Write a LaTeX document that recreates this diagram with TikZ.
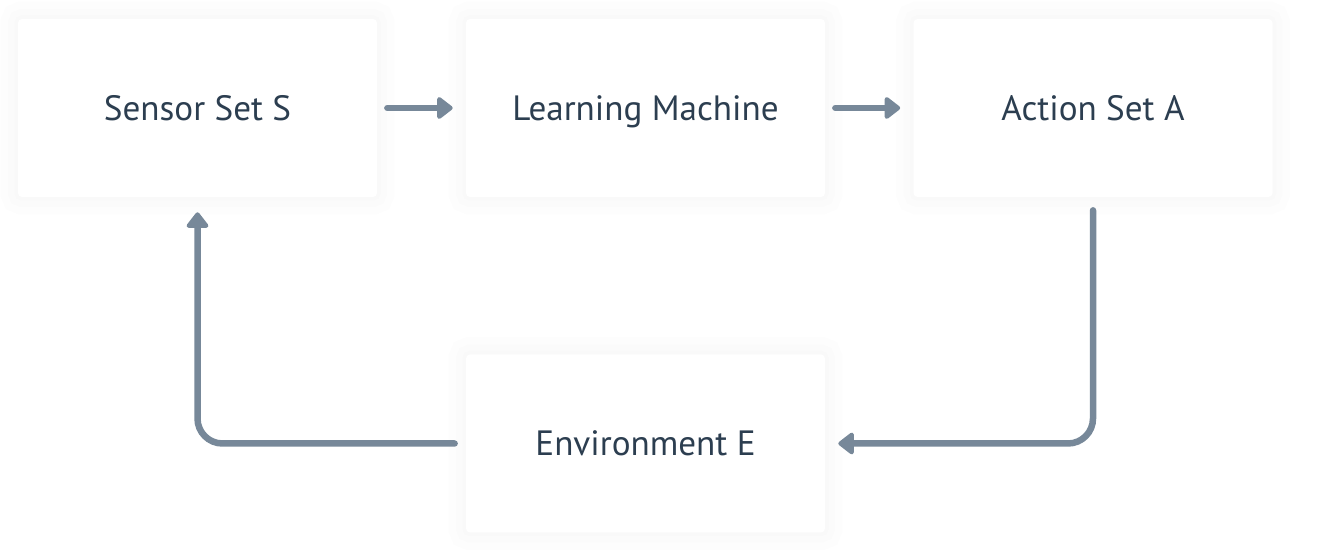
\documentclass[tikz,border=0pt]{standalone}
\usepackage{fontspec}
\setmainfont{PT Sans}
\usetikzlibrary{arrows.meta}
\definecolor{flowgray}{HTML}{778899}
\definecolor{textdark}{HTML}{2C3E50}
\tikzset{
  block/.style={draw=none, fill=white, rounded corners=0.08cm,
    minimum width=7.18cm, minimum height=3.56cm, text=textdark,
    font=\fontsize{20}{24}\selectfont, text height=14pt, text depth=0pt,
    preaction={draw=black, draw opacity=0.008, line width=0.7cm},
    preaction={draw=black, draw opacity=0.008, line width=0.4cm},
    preaction={draw=black, draw opacity=0.008, line width=0.15cm}},
  flow/.style={draw=flowgray, line width=0.13cm, line cap=round,
    -{Triangle[width=0.5cm,length=0.34cm,round]}}
}
\begin{document}
\begin{tikzpicture}
		\useasboundingbox[fill=white] (0,0) rectangle (26.88,11.04);
		% blocs
		\node[block] (sensor) at (3.95,8.88) {Sensor Set S};
		\node[block] (learn) at (12.91,8.88) {Learning Machine};
		\node[block] (action) at (21.86,8.88) {Action Set A};
		\node[block] (env) at (12.91,2.17) {Environment E};
		% fleches
		\draw[flow, shorten <=0.2cm, shorten >=0.26cm] (sensor.east)--(learn.west);
		\draw[flow, shorten <=0.2cm, shorten >=0.26cm] (learn.east)--(action.west);
		\draw[flow, rounded corners=0.5cm, shorten <=0.26cm, shorten >=0.26cm] (action.south) |- (env.east);
		\draw[flow, rounded corners=0.5cm, shorten <=0.22cm, shorten >=0.3cm] (env.west) -| (sensor.south);
    \end{tikzpicture}
\end{document}
